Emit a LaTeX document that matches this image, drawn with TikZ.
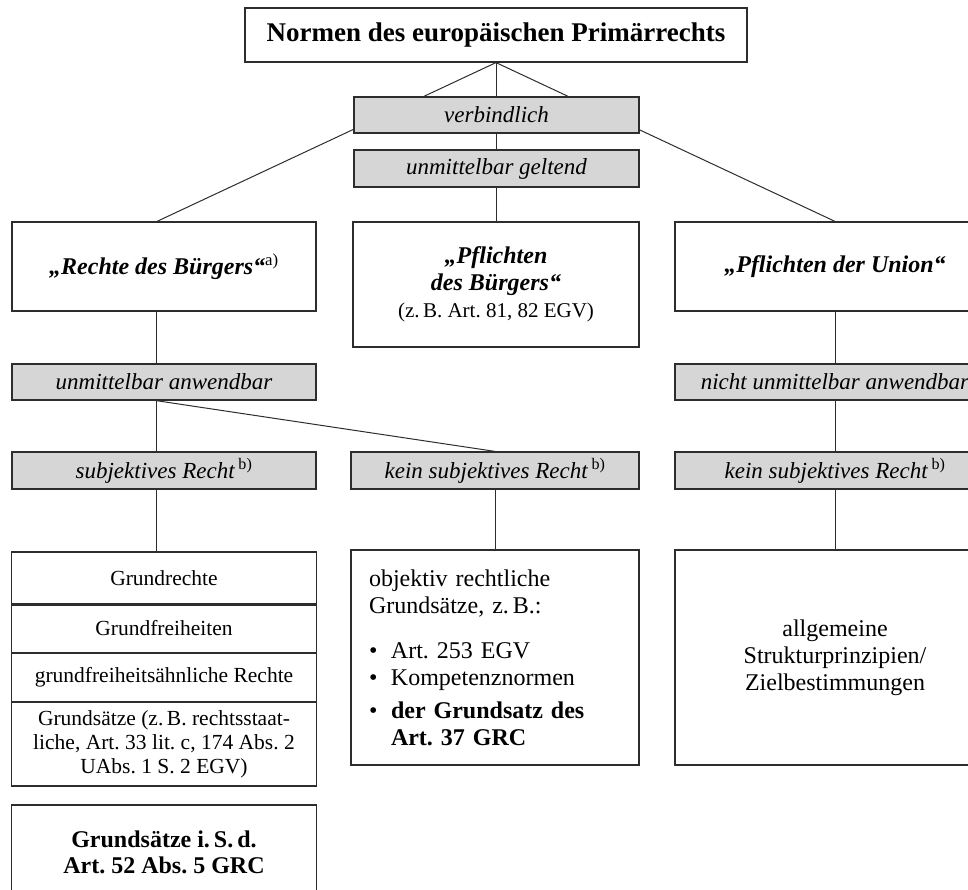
\documentclass[tikz,border=0pt]{standalone}
\usepackage{fontspec}
\setmainfont{Liberation Serif}
\usetikzlibrary{backgrounds}
\definecolor{labelgray}{RGB}{214,214,214}
\definecolor{rulegray}{RGB}{45,45,45}
\frenchspacing

\begin{document}
\begin{tikzpicture}[x=1pt, y=-1pt,
                    box/.style={draw=rulegray, line width=1.2pt, rectangle, inner sep=0pt, align=center,
                                font=\fontsize{24}{27}\selectfont},
                    stackbox/.style={box, minimum width=305, font=\fontsize{21.5}{24}\selectfont},
                    tag/.style={box, fill=labelgray, minimum height=37, font=\fontsize{23}{26}\selectfont\itshape},
                    head/.style={box, font=\fontsize{24}{27}\selectfont\bfseries\itshape},
                    link/.style={draw=rulegray, line width=1pt}]
                    \useasboundingbox (0,0) rectangle (968,890);
                    \node[box, minimum width=502, minimum height=54, font=\fontsize{27}{30}\selectfont\bfseries] (top) at (496,35) {Normen des europäischen Primärrechts};
                    \node[tag, minimum width=285, minimum height=36] (verb) at (496.5,115) {verbindlich};
                    \node[tag, minimum width=285] (geltend) at (496.5,168.5) {unmittelbar geltend};
                    \node[head, minimum width=304, minimum height=89] (rechte) at (164,266.5) {„Rechte des Bürgers“{\normalfont\textsuperscript{a)}}};
                    \node[head, minimum width=286, minimum height=125] (pflB) at (496,284.5) {„Pflichten\\ des Bürgers“\\ {\normalfont\fontsize{21}{26}\selectfont (z.\,B. Art. 81, 82 EGV)}};
                    \node[head, minimum width=320, minimum height=89] (pflU) at (835,266.5) {„Pflichten der Union“};
                    \node[tag, minimum width=304, minimum height=36] (anw) at (164,382) {unmittelbar anwendbar};
                    \node[tag, minimum width=320, minimum height=36] (nanw) at (835,382) {nicht unmittelbar anwendbar};
                    \node[tag, minimum width=304] (subj) at (164,470.5) {subjektives Recht\,{\normalfont\textsuperscript{b)}}};
                    \node[tag, minimum width=288] (ksubj) at (495,470.5) {kein subjektives Recht\,{\normalfont\textsuperscript{b)}}};
                    \node[tag, minimum width=320] (ksubjU) at (835,470.5) {kein subjektives Recht\,{\normalfont\textsuperscript{b)}}};
                    \node[stackbox, minimum height=52] (grundr) at (164,578) {Grundrechte};
                    \node[stackbox, minimum height=49] (grundf) at (164,628.5) {Grundfreiheiten};
                    \node[stackbox, minimum height=49] (gfaehnl) at (164,677.5) {grundfreiheitsähnliche Rechte};
                    \node[stackbox, minimum height=84] (gsaetze) at (164,744) {Grundsätze (z.\,B. rechtsstaat-\\ liche, Art. 33 lit. c, 174 Abs. 2\\ UAbs. 1 S. 2 EGV)};
                    \node[box, minimum width=305, minimum height=94, font=\fontsize{24}{26}\selectfont\bfseries] (art52) at (164,852) {Grundsätze i.\,S.\,d.\\ Art. 52 Abs. 5 GRC};
                    \node[box, minimum width=288, minimum height=215, text width=252, align=left] (objektiv) at (495,657.5)
                        {objektiv rechtliche\\ Grundsätze, z.\,B.:\\[18pt]
                         \makebox[22pt][l]{\textbullet}Art. 253 EGV\\
                         \makebox[22pt][l]{\textbullet}Kompetenznormen\\[6pt]
                         \makebox[22pt][l]{\textbullet}\textbf{der Grundsatz des}\\
                         \hspace*{22pt}\textbf{Art. 37 GRC}};
                    \node[box, minimum width=320, minimum height=215] (struktur) at (835,657.5) {allgemeine\\ Strukturprinzipien/\\ Zielbestimmungen};
                    \draw[rulegray, line width=2.6pt] (grundr.south west) -- (grundr.south east);
                    \begin{scope}[on background layer]
                        \draw[link] (top.south) -- ([xshift=-7pt]rechte.north);
                        \draw[link] (top.south) -- (pflB.north);
                        \draw[link] (top.south) -- (pflU.north);
                        \draw[link] ([xshift=-8pt]rechte.south) -- ([xshift=-8pt]anw.north);
                        \draw[link] ([xshift=-8pt]anw.south) -- ([xshift=-8pt]subj.north);
                        \draw[link] ([xshift=-8pt]anw.south) -- (ksubj.north);
                        \draw[link] ([xshift=-8pt]subj.south) -- ([xshift=-8pt]grundr.north);
                        \draw[link] (pflU.south) -- (nanw.north);
                        \draw[link] (nanw.south) -- (ksubjU.north);
                        \draw[link] (ksubj.south) -- (objektiv.north);
                        \draw[link] (ksubjU.south) -- (struktur.north);
                    \end{scope}
                \end{tikzpicture}
\end{document}
